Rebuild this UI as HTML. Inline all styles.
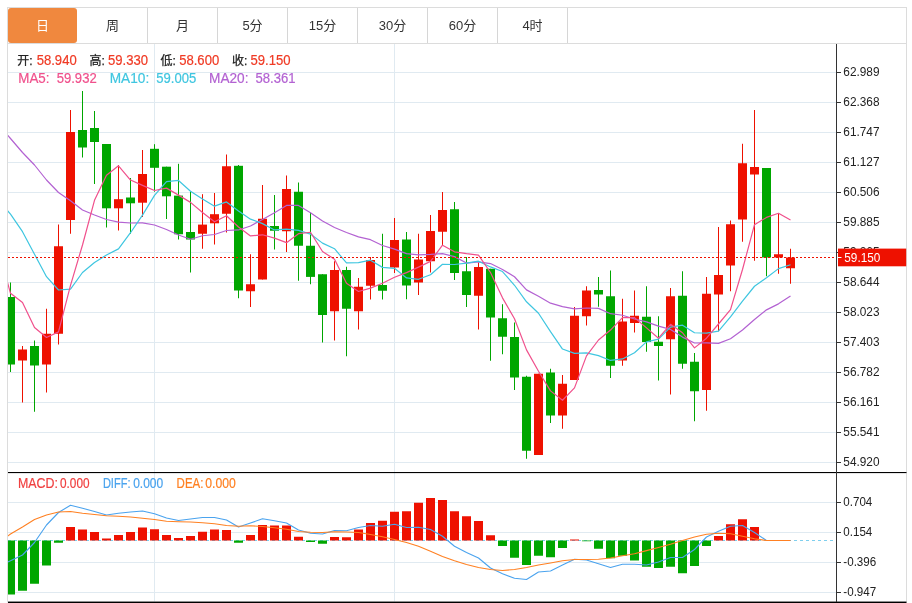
<!DOCTYPE html>
<html lang="zh"><head><meta charset="utf-8"><title>K线图</title>
<style>
html,body{margin:0;padding:0;background:#fff}
svg{display:block}
text{font-family:"Liberation Sans","Noto Sans CJK SC",sans-serif}
.ax{font-size:13px;fill:#222}
.tab{font-size:13px;fill:#333;text-anchor:middle}
.cj{font-size:12px;stroke-width:0.25px}
.hd{font-size:13.8px;stroke-width:0.2px}
</style></head><body>
<svg width="912" height="603" viewBox="0 0 912 603">
<defs><clipPath id="cp"><rect x="8" y="44" width="828.5" height="558"/></clipPath></defs>
<rect width="912" height="603" fill="#fff"/>

<rect x="7.5" y="7.5" width="899" height="594.5" fill="none" stroke="#dcdcdc" stroke-width="1"/>
<line x1="7.5" y1="43.5" x2="906.5" y2="43.5" stroke="#dcdcdc"/>
<line x1="147.5" y1="8" x2="147.5" y2="43" stroke="#d6d6d6"/>
<line x1="217.5" y1="8" x2="217.5" y2="43" stroke="#d6d6d6"/>
<line x1="287.5" y1="8" x2="287.5" y2="43" stroke="#d6d6d6"/>
<line x1="357.5" y1="8" x2="357.5" y2="43" stroke="#d6d6d6"/>
<line x1="427.5" y1="8" x2="427.5" y2="43" stroke="#d6d6d6"/>
<line x1="497.5" y1="8" x2="497.5" y2="43" stroke="#d6d6d6"/>
<line x1="567.5" y1="8" x2="567.5" y2="43" stroke="#d6d6d6"/>
<rect x="8" y="8" width="69" height="35" rx="3" fill="#f0883e"/>
<text class="tab" x="42.5" y="30.2" fill="#fff" style="fill:#fff">日</text>
<text class="tab" x="112.5" y="30.2">周</text>
<text class="tab" x="182.5" y="30.2">月</text>
<text class="tab" x="252.5" y="30.2">5分</text>
<text class="tab" x="322.5" y="30.2">15分</text>
<text class="tab" x="392.5" y="30.2">30分</text>
<text class="tab" x="462.5" y="30.2">60分</text>
<text class="tab" x="532.5" y="30.2">4时</text>
<line x1="8" y1="72.5" x2="836" y2="72.5" stroke="#e0eaf1"/>
<line x1="8" y1="102.5" x2="836" y2="102.5" stroke="#e0eaf1"/>
<line x1="8" y1="132.5" x2="836" y2="132.5" stroke="#e0eaf1"/>
<line x1="8" y1="162.5" x2="836" y2="162.5" stroke="#e0eaf1"/>
<line x1="8" y1="192.5" x2="836" y2="192.5" stroke="#e0eaf1"/>
<line x1="8" y1="222.5" x2="836" y2="222.5" stroke="#e0eaf1"/>
<line x1="8" y1="252.5" x2="836" y2="252.5" stroke="#e0eaf1"/>
<line x1="8" y1="282.5" x2="836" y2="282.5" stroke="#e0eaf1"/>
<line x1="8" y1="312.5" x2="836" y2="312.5" stroke="#e0eaf1"/>
<line x1="8" y1="342.5" x2="836" y2="342.5" stroke="#e0eaf1"/>
<line x1="8" y1="372.5" x2="836" y2="372.5" stroke="#e0eaf1"/>
<line x1="8" y1="402.5" x2="836" y2="402.5" stroke="#e0eaf1"/>
<line x1="8" y1="432.5" x2="836" y2="432.5" stroke="#e0eaf1"/>
<line x1="8" y1="462.5" x2="836" y2="462.5" stroke="#e0eaf1"/>
<line x1="8" y1="502.5" x2="836" y2="502.5" stroke="#e0eaf1"/>
<line x1="8" y1="532.5" x2="836" y2="532.5" stroke="#e0eaf1"/>
<line x1="8" y1="562.5" x2="836" y2="562.5" stroke="#e0eaf1"/>
<line x1="8" y1="592.5" x2="836" y2="592.5" stroke="#e0eaf1"/>
<line x1="154.5" y1="44" x2="154.5" y2="602" stroke="#e0eaf1"/>
<line x1="394.5" y1="44" x2="394.5" y2="602" stroke="#e0eaf1"/>
<line x1="8" y1="540.5" x2="836" y2="540.5" stroke="#7fcfee" stroke-dasharray="3,3"/>
<g clip-path="url(#cp)">
<line x1="10.5" y1="282.5" x2="10.5" y2="372" stroke="#00a600" stroke-width="1"/>
<rect x="6.0" y="297" width="9" height="67.5" fill="#00a600"/>
<line x1="22.5" y1="346" x2="22.5" y2="402.5" stroke="#ee1100" stroke-width="1"/>
<rect x="18.0" y="349.5" width="9" height="11.0" fill="#ee1100"/>
<line x1="34.5" y1="340.5" x2="34.5" y2="411.75" stroke="#00a600" stroke-width="1"/>
<rect x="30.0" y="346" width="9" height="19.5" fill="#00a600"/>
<line x1="46.5" y1="308.75" x2="46.5" y2="392.5" stroke="#ee1100" stroke-width="1"/>
<rect x="42.0" y="333.75" width="9" height="30.75" fill="#ee1100"/>
<line x1="58.5" y1="224.5" x2="58.5" y2="344.5" stroke="#ee1100" stroke-width="1"/>
<rect x="54.0" y="246.25" width="9" height="87.5" fill="#ee1100"/>
<line x1="70.5" y1="110" x2="70.5" y2="233.75" stroke="#ee1100" stroke-width="1"/>
<rect x="66.0" y="132" width="9" height="88" fill="#ee1100"/>
<line x1="82.5" y1="91" x2="82.5" y2="157.5" stroke="#00a600" stroke-width="1"/>
<rect x="78.0" y="130" width="9" height="17.5" fill="#00a600"/>
<line x1="94.5" y1="111" x2="94.5" y2="184" stroke="#00a600" stroke-width="1"/>
<rect x="90.0" y="128" width="9" height="14" fill="#00a600"/>
<line x1="106.5" y1="144" x2="106.5" y2="227.5" stroke="#00a600" stroke-width="1"/>
<rect x="102.0" y="144" width="9" height="64.3" fill="#00a600"/>
<line x1="118.5" y1="165" x2="118.5" y2="230.5" stroke="#ee1100" stroke-width="1"/>
<rect x="114.0" y="199.2" width="9" height="9.1" fill="#ee1100"/>
<line x1="130.5" y1="178" x2="130.5" y2="233.75" stroke="#00a600" stroke-width="1"/>
<rect x="126.0" y="197.5" width="9" height="5.8" fill="#00a600"/>
<line x1="142.5" y1="150" x2="142.5" y2="217" stroke="#ee1100" stroke-width="1"/>
<rect x="138.0" y="174" width="9" height="28.7" fill="#ee1100"/>
<line x1="154.5" y1="144.2" x2="154.5" y2="191.7" stroke="#00a600" stroke-width="1"/>
<rect x="150.0" y="148.8" width="9" height="19.0" fill="#00a600"/>
<line x1="166.5" y1="166.7" x2="166.5" y2="219" stroke="#00a600" stroke-width="1"/>
<rect x="162.0" y="166.7" width="9" height="29.6" fill="#00a600"/>
<line x1="178.5" y1="163.8" x2="178.5" y2="239.5" stroke="#00a600" stroke-width="1"/>
<rect x="174.0" y="195.6" width="9" height="38.65" fill="#00a600"/>
<line x1="190.5" y1="191.5" x2="190.5" y2="272.5" stroke="#00a600" stroke-width="1"/>
<rect x="186.0" y="232" width="9" height="7.5" fill="#00a600"/>
<line x1="202.5" y1="194.2" x2="202.5" y2="248.75" stroke="#ee1100" stroke-width="1"/>
<rect x="198.0" y="224.6" width="9" height="9.15" fill="#ee1100"/>
<line x1="214.5" y1="193" x2="214.5" y2="244.5" stroke="#ee1100" stroke-width="1"/>
<rect x="210.0" y="214.2" width="9" height="9.1" fill="#ee1100"/>
<line x1="226.5" y1="154.5" x2="226.5" y2="232.5" stroke="#ee1100" stroke-width="1"/>
<rect x="222.0" y="166.25" width="9" height="47.5" fill="#ee1100"/>
<line x1="238.5" y1="165" x2="238.5" y2="298.25" stroke="#00a600" stroke-width="1"/>
<rect x="234.0" y="165.8" width="9" height="124.7" fill="#00a600"/>
<line x1="250.5" y1="254.25" x2="250.5" y2="307" stroke="#ee1100" stroke-width="1"/>
<rect x="246.0" y="284.25" width="9" height="7.0" fill="#ee1100"/>
<line x1="262.5" y1="185" x2="262.5" y2="279.5" stroke="#ee1100" stroke-width="1"/>
<rect x="258.0" y="218.75" width="9" height="60.75" fill="#ee1100"/>
<line x1="274.5" y1="195" x2="274.5" y2="249.5" stroke="#00a600" stroke-width="1"/>
<rect x="270.0" y="226" width="9" height="4.75" fill="#00a600"/>
<line x1="286.5" y1="175.5" x2="286.5" y2="252" stroke="#ee1100" stroke-width="1"/>
<rect x="282.0" y="189" width="9" height="42.25" fill="#ee1100"/>
<line x1="298.5" y1="182.5" x2="298.5" y2="280.75" stroke="#00a600" stroke-width="1"/>
<rect x="294.0" y="191.75" width="9" height="54.0" fill="#00a600"/>
<line x1="310.5" y1="212.5" x2="310.5" y2="284.25" stroke="#00a600" stroke-width="1"/>
<rect x="306.0" y="245.75" width="9" height="31.15" fill="#00a600"/>
<line x1="322.5" y1="274.25" x2="322.5" y2="342.5" stroke="#00a600" stroke-width="1"/>
<rect x="318.0" y="274.25" width="9" height="40.75" fill="#00a600"/>
<line x1="334.5" y1="261.25" x2="334.5" y2="340.5" stroke="#ee1100" stroke-width="1"/>
<rect x="330.0" y="270" width="9" height="41.25" fill="#ee1100"/>
<line x1="346.5" y1="266.75" x2="346.5" y2="356.25" stroke="#00a600" stroke-width="1"/>
<rect x="342.0" y="270" width="9" height="38.75" fill="#00a600"/>
<line x1="358.5" y1="278" x2="358.5" y2="329.5" stroke="#ee1100" stroke-width="1"/>
<rect x="354.0" y="286.75" width="9" height="24.5" fill="#ee1100"/>
<line x1="370.5" y1="257" x2="370.5" y2="299.5" stroke="#ee1100" stroke-width="1"/>
<rect x="366.0" y="260" width="9" height="25.75" fill="#ee1100"/>
<line x1="382.5" y1="233.75" x2="382.5" y2="299.5" stroke="#00a600" stroke-width="1"/>
<rect x="378.0" y="285" width="9" height="5.75" fill="#00a600"/>
<line x1="394.5" y1="218" x2="394.5" y2="273" stroke="#ee1100" stroke-width="1"/>
<rect x="390.0" y="240" width="9" height="27.5" fill="#ee1100"/>
<line x1="406.5" y1="232" x2="406.5" y2="299.25" stroke="#00a600" stroke-width="1"/>
<rect x="402.0" y="239.5" width="9" height="46.0" fill="#00a600"/>
<line x1="418.5" y1="233.75" x2="418.5" y2="295" stroke="#ee1100" stroke-width="1"/>
<rect x="414.0" y="259.5" width="9" height="23.0" fill="#ee1100"/>
<line x1="430.5" y1="215" x2="430.5" y2="272.5" stroke="#ee1100" stroke-width="1"/>
<rect x="426.0" y="231" width="9" height="30.25" fill="#ee1100"/>
<line x1="442.5" y1="192" x2="442.5" y2="245" stroke="#ee1100" stroke-width="1"/>
<rect x="438.0" y="210" width="9" height="21.75" fill="#ee1100"/>
<line x1="454.5" y1="202" x2="454.5" y2="280" stroke="#00a600" stroke-width="1"/>
<rect x="450.0" y="209.25" width="9" height="63.75" fill="#00a600"/>
<line x1="466.5" y1="257" x2="466.5" y2="307" stroke="#00a600" stroke-width="1"/>
<rect x="462.0" y="271.25" width="9" height="23.75" fill="#00a600"/>
<line x1="478.5" y1="262.5" x2="478.5" y2="329.5" stroke="#ee1100" stroke-width="1"/>
<rect x="474.0" y="267" width="9" height="28.75" fill="#ee1100"/>
<line x1="490.5" y1="268.75" x2="490.5" y2="360.75" stroke="#00a600" stroke-width="1"/>
<rect x="486.0" y="268.75" width="9" height="48.75" fill="#00a600"/>
<line x1="502.5" y1="304.25" x2="502.5" y2="354.25" stroke="#00a600" stroke-width="1"/>
<rect x="498.0" y="318.25" width="9" height="18.5" fill="#00a600"/>
<line x1="514.5" y1="322.5" x2="514.5" y2="390" stroke="#00a600" stroke-width="1"/>
<rect x="510.0" y="337" width="9" height="40.5" fill="#00a600"/>
<line x1="526.5" y1="375.75" x2="526.5" y2="458.75" stroke="#00a600" stroke-width="1"/>
<rect x="522.0" y="376.75" width="9" height="74.0" fill="#00a600"/>
<line x1="538.5" y1="373.75" x2="538.5" y2="455" stroke="#ee1100" stroke-width="1"/>
<rect x="534.0" y="373.75" width="9" height="81.25" fill="#ee1100"/>
<line x1="550.5" y1="368.75" x2="550.5" y2="423" stroke="#00a600" stroke-width="1"/>
<rect x="546.0" y="372.5" width="9" height="43.0" fill="#00a600"/>
<line x1="562.5" y1="375" x2="562.5" y2="428.75" stroke="#ee1100" stroke-width="1"/>
<rect x="558.0" y="383.75" width="9" height="31.75" fill="#ee1100"/>
<line x1="574.5" y1="307" x2="574.5" y2="380" stroke="#ee1100" stroke-width="1"/>
<rect x="570.0" y="315.75" width="9" height="64.25" fill="#ee1100"/>
<line x1="586.5" y1="286.25" x2="586.5" y2="325.5" stroke="#ee1100" stroke-width="1"/>
<rect x="582.0" y="290.5" width="9" height="25.75" fill="#ee1100"/>
<line x1="598.5" y1="277" x2="598.5" y2="306.75" stroke="#00a600" stroke-width="1"/>
<rect x="594.0" y="290" width="9" height="4.5" fill="#00a600"/>
<line x1="610.5" y1="270.5" x2="610.5" y2="378" stroke="#00a600" stroke-width="1"/>
<rect x="606.0" y="296.25" width="9" height="69.5" fill="#00a600"/>
<line x1="622.5" y1="298.75" x2="622.5" y2="365.75" stroke="#ee1100" stroke-width="1"/>
<rect x="618.0" y="321.5" width="9" height="39.0" fill="#ee1100"/>
<line x1="634.5" y1="290.5" x2="634.5" y2="332.5" stroke="#ee1100" stroke-width="1"/>
<rect x="630.0" y="315.75" width="9" height="7.25" fill="#ee1100"/>
<line x1="646.5" y1="286.25" x2="646.5" y2="351.75" stroke="#00a600" stroke-width="1"/>
<rect x="642.0" y="316.75" width="9" height="25.25" fill="#00a600"/>
<line x1="658.5" y1="316.25" x2="658.5" y2="380.5" stroke="#00a600" stroke-width="1"/>
<rect x="654.0" y="341.75" width="9" height="4.25" fill="#00a600"/>
<line x1="670.5" y1="288" x2="670.5" y2="394.5" stroke="#ee1100" stroke-width="1"/>
<rect x="666.0" y="296.25" width="9" height="43.0" fill="#ee1100"/>
<line x1="682.5" y1="271.25" x2="682.5" y2="368.75" stroke="#00a600" stroke-width="1"/>
<rect x="678.0" y="295.75" width="9" height="68.0" fill="#00a600"/>
<line x1="694.5" y1="353" x2="694.5" y2="421.25" stroke="#00a600" stroke-width="1"/>
<rect x="690.0" y="361.75" width="9" height="29.5" fill="#00a600"/>
<line x1="706.5" y1="277" x2="706.5" y2="410.75" stroke="#ee1100" stroke-width="1"/>
<rect x="702.0" y="293.75" width="9" height="96.25" fill="#ee1100"/>
<line x1="718.5" y1="227" x2="718.5" y2="331.25" stroke="#ee1100" stroke-width="1"/>
<rect x="714.0" y="275" width="9" height="19.5" fill="#ee1100"/>
<line x1="730.5" y1="220.5" x2="730.5" y2="291.25" stroke="#ee1100" stroke-width="1"/>
<rect x="726.0" y="224.25" width="9" height="41.25" fill="#ee1100"/>
<line x1="742.5" y1="143.75" x2="742.5" y2="241.75" stroke="#ee1100" stroke-width="1"/>
<rect x="738.0" y="163.25" width="9" height="56.25" fill="#ee1100"/>
<line x1="754.5" y1="110" x2="754.5" y2="260.75" stroke="#ee1100" stroke-width="1"/>
<rect x="750.0" y="167" width="9" height="7.5" fill="#ee1100"/>
<line x1="766.5" y1="168" x2="766.5" y2="276.25" stroke="#00a600" stroke-width="1"/>
<rect x="762.0" y="168" width="9" height="89.5" fill="#00a600"/>
<line x1="778.5" y1="213.75" x2="778.5" y2="273.75" stroke="#ee1100" stroke-width="1"/>
<rect x="774.0" y="254.25" width="9" height="3.25" fill="#ee1100"/>
<line x1="790.5" y1="248.75" x2="790.5" y2="283.75" stroke="#ee1100" stroke-width="1"/>
<rect x="786.0" y="257.5" width="9" height="10.75" fill="#ee1100"/>
<polyline points="-1.5,124.5 10.5,138.5 22.5,152.5 34.5,165 46.5,180 58.5,192.5 70.5,200.8 82.5,210 94.5,215 106.5,219.5 118.5,222.2 130.5,223 142.5,222.8 154.5,225 166.5,229.5 178.5,235 190.5,239.25 202.5,235.75 214.5,234.5 226.5,230.5 238.5,229.96 250.5,225.95 262.5,219.41 274.5,212.67 286.5,205.44 298.5,205.41 310.5,212.66 322.5,221.03 334.5,227.43 346.5,232.45 358.5,236.83 370.5,239.67 382.5,245.5 394.5,249.11 406.5,253.57 418.5,254.83 430.5,254.41 442.5,253.68 454.5,256.62 466.5,263.06 478.5,261.88 490.5,263.54 502.5,269.44 514.5,276.78 526.5,289.87 538.5,296.27 550.5,303.2 562.5,306.64 574.5,308.93 586.5,308.01 598.5,308.4 610.5,313.69 622.5,315.23 634.5,319.01 646.5,321.84 658.5,326.16 670.5,329.43 682.5,337.11 694.5,343.02 706.5,342.96 718.5,343.36 730.5,338.7 742.5,330.02 754.5,319.5 766.5,309.84 778.5,303.86 790.5,295.96" fill="none" stroke="#b362d2" stroke-width="1.2" stroke-linejoin="round"/>
<polyline points="-1.5,200 10.5,214.2 22.5,231.7 34.5,254.2 46.5,276.7 58.5,290 70.5,289.2 82.5,272.5 94.5,262.5 106.5,255 118.5,248.85 130.5,232.73 142.5,215.18 154.5,195.41 166.5,181.67 178.5,180.47 190.5,191.22 202.5,198.93 214.5,206.14 226.5,201.94 238.5,211.07 250.5,219.17 262.5,223.64 274.5,229.94 286.5,229.21 298.5,230.36 310.5,234.09 322.5,243.13 334.5,248.72 346.5,262.97 358.5,262.59 370.5,260.17 382.5,267.37 394.5,268.29 406.5,277.94 418.5,279.31 430.5,274.73 442.5,264.23 454.5,264.52 466.5,263.15 478.5,261.18 490.5,266.93 502.5,271.52 514.5,285.27 526.5,301.8 538.5,313.23 550.5,331.68 562.5,349.05 574.5,353.32 586.5,352.88 598.5,355.62 610.5,360.45 622.5,358.93 634.5,352.75 646.5,341.88 658.5,339.1 670.5,327.18 682.5,325.18 694.5,332.73 706.5,333.05 718.5,331.1 730.5,316.95 742.5,301.12 754.5,286.25 766.5,277.8 778.5,268.62 790.5,264.75" fill="none" stroke="#3fc6e0" stroke-width="1.2" stroke-linejoin="round"/>
<polyline points="-1.5,250 10.5,293.3 22.5,302.5 34.5,327.5 46.5,337.5 58.5,331.9 70.5,285.4 82.5,245.0 94.5,200.3 106.5,175.21 118.5,165.8 130.5,180.06 142.5,185.36 154.5,190.52 166.5,188.12 178.5,195.13 190.5,202.37 202.5,212.49 214.5,221.77 226.5,215.76 238.5,227.01 250.5,235.96 262.5,234.79 274.5,238.1 286.5,242.65 298.5,233.7 310.5,232.23 322.5,251.48 334.5,259.33 346.5,283.28 358.5,291.48 370.5,288.1 382.5,283.25 394.5,277.25 406.5,272.6 418.5,267.15 430.5,261.35 442.5,245.2 454.5,251.8 466.5,253.7 478.5,255.2 490.5,272.5 502.5,297.85 514.5,318.75 526.5,349.9 538.5,371.25 550.5,390.85 562.5,400.25 574.5,387.9 586.5,355.85 598.5,340.0 610.5,330.05 622.5,317.6 634.5,317.6 646.5,327.9 658.5,338.2 670.5,324.3 682.5,332.75 694.5,347.85 706.5,338.2 718.5,324.0 730.5,309.6 742.5,269.5 754.5,224.65 766.5,217.4 778.5,213.25 790.5,219.9" fill="none" stroke="#f0508c" stroke-width="1.2" stroke-linejoin="round"/>
</g>
<line x1="8" y1="257.5" x2="836" y2="257.5" stroke="#ee1100" stroke-width="1" stroke-dasharray="2,2"/>
<g clip-path="url(#cp)">
<rect x="6.0" y="540.5" width="9" height="54.0" fill="#00a600"/>
<rect x="18.0" y="540.5" width="9" height="50.25" fill="#00a600"/>
<rect x="30.0" y="540.5" width="9" height="43.25" fill="#00a600"/>
<rect x="42.0" y="540.5" width="9" height="25.0" fill="#00a600"/>
<rect x="54.0" y="540.5" width="9" height="2.25" fill="#00a600"/>
<rect x="66.0" y="527" width="9" height="13.5" fill="#ee1100"/>
<rect x="78.0" y="529.5" width="9" height="11.0" fill="#ee1100"/>
<rect x="90.0" y="532" width="9" height="8.5" fill="#ee1100"/>
<rect x="102.0" y="538.5" width="9" height="2.0" fill="#ee1100"/>
<rect x="114.0" y="535" width="9" height="5.5" fill="#ee1100"/>
<rect x="126.0" y="532" width="9" height="8.5" fill="#ee1100"/>
<rect x="138.0" y="527.5" width="9" height="13.0" fill="#ee1100"/>
<rect x="150.0" y="529.25" width="9" height="11.25" fill="#ee1100"/>
<rect x="162.0" y="535" width="9" height="5.5" fill="#ee1100"/>
<rect x="174.0" y="538" width="9" height="2.5" fill="#ee1100"/>
<rect x="186.0" y="536" width="9" height="4.5" fill="#ee1100"/>
<rect x="198.0" y="531.75" width="9" height="8.75" fill="#ee1100"/>
<rect x="210.0" y="529.5" width="9" height="11.0" fill="#ee1100"/>
<rect x="222.0" y="530" width="9" height="10.5" fill="#ee1100"/>
<rect x="234.0" y="540.5" width="9" height="2.25" fill="#00a600"/>
<rect x="246.0" y="535" width="9" height="5.5" fill="#ee1100"/>
<rect x="258.0" y="525" width="9" height="15.5" fill="#ee1100"/>
<rect x="270.0" y="525.5" width="9" height="15.0" fill="#ee1100"/>
<rect x="282.0" y="525.5" width="9" height="15.0" fill="#ee1100"/>
<rect x="294.0" y="536.75" width="9" height="3.75" fill="#ee1100"/>
<rect x="306.0" y="540.5" width="9" height="1.5" fill="#00a600"/>
<rect x="318.0" y="540.5" width="9" height="3.25" fill="#00a600"/>
<rect x="330.0" y="537" width="9" height="3.5" fill="#ee1100"/>
<rect x="342.0" y="537.25" width="9" height="3.25" fill="#ee1100"/>
<rect x="354.0" y="529.5" width="9" height="11.0" fill="#ee1100"/>
<rect x="366.0" y="523" width="9" height="17.5" fill="#ee1100"/>
<rect x="378.0" y="520.75" width="9" height="19.75" fill="#ee1100"/>
<rect x="390.0" y="511.75" width="9" height="28.75" fill="#ee1100"/>
<rect x="402.0" y="511.25" width="9" height="29.25" fill="#ee1100"/>
<rect x="414.0" y="502.75" width="9" height="37.75" fill="#ee1100"/>
<rect x="426.0" y="498" width="9" height="42.5" fill="#ee1100"/>
<rect x="438.0" y="500" width="9" height="40.5" fill="#ee1100"/>
<rect x="450.0" y="511.25" width="9" height="29.25" fill="#ee1100"/>
<rect x="462.0" y="516.25" width="9" height="24.25" fill="#ee1100"/>
<rect x="474.0" y="521" width="9" height="19.5" fill="#ee1100"/>
<rect x="486.0" y="535.25" width="9" height="5.25" fill="#ee1100"/>
<rect x="498.0" y="540.5" width="9" height="5.5" fill="#00a600"/>
<rect x="510.0" y="540.5" width="9" height="17.25" fill="#00a600"/>
<rect x="522.0" y="540.5" width="9" height="24.5" fill="#00a600"/>
<rect x="534.0" y="540.5" width="9" height="15.25" fill="#00a600"/>
<rect x="546.0" y="540.5" width="9" height="16.75" fill="#00a600"/>
<rect x="558.0" y="540.5" width="9" height="7.5" fill="#00a600"/>
<rect x="570.0" y="539.5" width="9" height="1.0" fill="#ee1100"/>
<rect x="582.0" y="540.5" width="9" height="0.75" fill="#00a600"/>
<rect x="594.0" y="540.5" width="9" height="8.25" fill="#00a600"/>
<rect x="606.0" y="540.5" width="9" height="17.75" fill="#00a600"/>
<rect x="618.0" y="540.5" width="9" height="15.25" fill="#00a600"/>
<rect x="630.0" y="540.5" width="9" height="20.0" fill="#00a600"/>
<rect x="642.0" y="540.5" width="9" height="26.25" fill="#00a600"/>
<rect x="654.0" y="540.5" width="9" height="27.5" fill="#00a600"/>
<rect x="666.0" y="540.5" width="9" height="26.25" fill="#00a600"/>
<rect x="678.0" y="540.5" width="9" height="32.75" fill="#00a600"/>
<rect x="690.0" y="540.5" width="9" height="25.5" fill="#00a600"/>
<rect x="702.0" y="540.5" width="9" height="5.5" fill="#00a600"/>
<rect x="714.0" y="536" width="9" height="4.5" fill="#ee1100"/>
<rect x="726.0" y="524.25" width="9" height="16.25" fill="#ee1100"/>
<rect x="738.0" y="519.25" width="9" height="21.25" fill="#ee1100"/>
<rect x="750.0" y="527" width="9" height="13.5" fill="#ee1100"/>
<polyline points="-1.5,566 10.5,560.8 22.5,555 34.5,542.5 46.5,525 58.5,512.5 70.5,505.25 82.5,508.25 94.5,511.5 106.5,515 118.5,513.25 130.5,512 142.5,511 154.5,513.75 166.5,518 178.5,520.5 190.5,519 202.5,517.5 214.5,517.5 226.5,520 238.5,527 250.5,523 262.5,518.75 274.5,520.75 286.5,523 298.5,530 310.5,533.25 322.5,534 334.5,530.5 346.5,530.75 358.5,527.5 370.5,525.5 382.5,526.25 394.5,524.25 406.5,527.5 418.5,527.25 430.5,529.5 442.5,536.25 454.5,546.25 466.5,552.5 478.5,558 490.5,568 502.5,573.75 514.5,578.25 526.5,579.5 538.5,572 550.5,571 562.5,565 574.5,559.25 586.5,560 598.5,563.75 610.5,567.5 622.5,564.25 634.5,564.25 646.5,565 658.5,562 670.5,557.5 682.5,557.5 694.5,549.5 706.5,537 718.5,531.25 730.5,526.25 742.5,525.5 754.5,532.5 766.5,540.5 778.5,540.5 790.5,540.5" fill="none" stroke="#4aa3ee" stroke-width="1.1" stroke-linejoin="round"/>
<polyline points="-1.5,543 10.5,534 22.5,527 34.5,519.5 46.5,515 58.5,512 70.5,511.5 82.5,513.25 94.5,514.5 106.5,515.75 118.5,516.25 130.5,517 142.5,518.25 154.5,519.5 166.5,521.25 178.5,521.75 190.5,522 202.5,522.75 214.5,523.75 226.5,525.5 238.5,526.25 250.5,525.75 262.5,526.5 274.5,527.75 286.5,529.25 298.5,531.5 310.5,532.25 322.5,532.5 334.5,531.75 346.5,532 358.5,532.5 370.5,534.5 382.5,536.75 394.5,539.5 406.5,542.5 418.5,546.25 430.5,551.25 442.5,556.5 454.5,560.75 466.5,564.5 478.5,567.5 490.5,569.5 502.5,570.5 514.5,569.5 526.5,567.5 538.5,565 550.5,563 562.5,560.75 574.5,559.5 586.5,559.5 598.5,559.25 610.5,558 622.5,555.75 634.5,553.75 646.5,550.6 658.5,547.5 670.5,544.25 682.5,540.5 694.5,537 706.5,534.25 718.5,533.25 730.5,533.75 742.5,536.25 754.5,538.75 766.5,540.5 778.5,540.5 790.5,540.5" fill="none" stroke="#ff8022" stroke-width="1.1" stroke-linejoin="round"/>
</g>
<rect x="8" y="472" width="898.5" height="1.1" fill="#000"/>
<rect x="8" y="601.6" width="898.5" height="1.4" fill="#000"/>
<line x1="836.5" y1="44" x2="836.5" y2="602" stroke="#333" stroke-width="1"/>
<line x1="836" y1="72.5" x2="841" y2="72.5" stroke="#333"/>
<text class="ax" x="843.3" y="76.4" textLength="36.2" lengthAdjust="spacingAndGlyphs">62.989</text>
<line x1="836" y1="102.5" x2="841" y2="102.5" stroke="#333"/>
<text class="ax" x="843.3" y="106.4" textLength="36.2" lengthAdjust="spacingAndGlyphs">62.368</text>
<line x1="836" y1="132.5" x2="841" y2="132.5" stroke="#333"/>
<text class="ax" x="843.3" y="136.4" textLength="36.2" lengthAdjust="spacingAndGlyphs">61.747</text>
<line x1="836" y1="162.5" x2="841" y2="162.5" stroke="#333"/>
<text class="ax" x="843.3" y="166.4" textLength="36.2" lengthAdjust="spacingAndGlyphs">61.127</text>
<line x1="836" y1="192.5" x2="841" y2="192.5" stroke="#333"/>
<text class="ax" x="843.3" y="196.4" textLength="36.2" lengthAdjust="spacingAndGlyphs">60.506</text>
<line x1="836" y1="222.5" x2="841" y2="222.5" stroke="#333"/>
<text class="ax" x="843.3" y="226.4" textLength="36.2" lengthAdjust="spacingAndGlyphs">59.885</text>
<line x1="836" y1="252.5" x2="841" y2="252.5" stroke="#333"/>
<text class="ax" x="843.3" y="256.4" textLength="36.2" lengthAdjust="spacingAndGlyphs">59.265</text>
<line x1="836" y1="282.5" x2="841" y2="282.5" stroke="#333"/>
<text class="ax" x="843.3" y="286.4" textLength="36.2" lengthAdjust="spacingAndGlyphs">58.644</text>
<line x1="836" y1="312.5" x2="841" y2="312.5" stroke="#333"/>
<text class="ax" x="843.3" y="316.4" textLength="36.2" lengthAdjust="spacingAndGlyphs">58.023</text>
<line x1="836" y1="342.5" x2="841" y2="342.5" stroke="#333"/>
<text class="ax" x="843.3" y="346.4" textLength="36.2" lengthAdjust="spacingAndGlyphs">57.403</text>
<line x1="836" y1="372.5" x2="841" y2="372.5" stroke="#333"/>
<text class="ax" x="843.3" y="376.4" textLength="36.2" lengthAdjust="spacingAndGlyphs">56.782</text>
<line x1="836" y1="402.5" x2="841" y2="402.5" stroke="#333"/>
<text class="ax" x="843.3" y="406.4" textLength="36.2" lengthAdjust="spacingAndGlyphs">56.161</text>
<line x1="836" y1="432.5" x2="841" y2="432.5" stroke="#333"/>
<text class="ax" x="843.3" y="436.4" textLength="36.2" lengthAdjust="spacingAndGlyphs">55.541</text>
<line x1="836" y1="462.5" x2="841" y2="462.5" stroke="#333"/>
<text class="ax" x="843.3" y="466.4" textLength="36.2" lengthAdjust="spacingAndGlyphs">54.920</text>
<line x1="836" y1="502.5" x2="841" y2="502.5" stroke="#333"/>
<text class="ax" x="843.3" y="506.4" textLength="29" lengthAdjust="spacingAndGlyphs">0.704</text>
<line x1="836" y1="532.5" x2="841" y2="532.5" stroke="#333"/>
<text class="ax" x="843.3" y="536.4" textLength="29" lengthAdjust="spacingAndGlyphs">0.154</text>
<line x1="836" y1="562.5" x2="841" y2="562.5" stroke="#333"/>
<text class="ax" x="843.3" y="566.4" textLength="33" lengthAdjust="spacingAndGlyphs">-0.396</text>
<line x1="836" y1="592.5" x2="841" y2="592.5" stroke="#333"/>
<text class="ax" x="843.3" y="596.4" textLength="33" lengthAdjust="spacingAndGlyphs">-0.947</text>
<rect x="838" y="248.6" width="68.2" height="17.7" fill="#ee1100"/>
<line x1="838" y1="257.5" x2="841.5" y2="257.5" stroke="#fff"/>
<text class="ax" x="844.3" y="262" fill="#fff" style="fill:#fff" textLength="36" lengthAdjust="spacingAndGlyphs">59.150</text>
<text class="cj" x="17.2" y="64.6" style="fill:#222;stroke:#222">开:</text>
<text class="hd" x="36.7" y="64.7" style="fill:#f03a24;stroke:#f03a24" textLength="40" lengthAdjust="spacingAndGlyphs">58.940</text>
<text class="cj" x="89.4" y="64.6" style="fill:#222;stroke:#222">高:</text>
<text class="hd" x="108" y="64.7" style="fill:#f03a24;stroke:#f03a24" textLength="40" lengthAdjust="spacingAndGlyphs">59.330</text>
<text class="cj" x="160.6" y="64.6" style="fill:#222;stroke:#222">低:</text>
<text class="hd" x="179.2" y="64.7" style="fill:#f03a24;stroke:#f03a24" textLength="40" lengthAdjust="spacingAndGlyphs">58.600</text>
<text class="cj" x="232" y="64.6" style="fill:#222;stroke:#222">收:</text>
<text class="hd" x="250.5" y="64.7" style="fill:#f03a24;stroke:#f03a24" textLength="40" lengthAdjust="spacingAndGlyphs">59.150</text>
<text class="hd" x="18.3" y="82.8" style="fill:#f0508c;stroke:#f0508c" textLength="31.2" lengthAdjust="spacingAndGlyphs">MA5:</text>
<text class="hd" x="56.7" y="82.8" style="fill:#f0508c;stroke:#f0508c" textLength="40" lengthAdjust="spacingAndGlyphs">59.932</text>
<text class="hd" x="109.7" y="82.8" style="fill:#3fc6e0;stroke:#3fc6e0" textLength="39.5" lengthAdjust="spacingAndGlyphs">MA10:</text>
<text class="hd" x="156.3" y="82.8" style="fill:#3fc6e0;stroke:#3fc6e0" textLength="40" lengthAdjust="spacingAndGlyphs">59.005</text>
<text class="hd" x="209" y="82.8" style="fill:#b362d2;stroke:#b362d2" textLength="39.5" lengthAdjust="spacingAndGlyphs">MA20:</text>
<text class="hd" x="255.5" y="82.8" style="fill:#b362d2;stroke:#b362d2" textLength="40" lengthAdjust="spacingAndGlyphs">58.361</text>
<text class="hd" x="17.9" y="487.8" style="fill:#f04040;stroke:#f04040" textLength="40" lengthAdjust="spacingAndGlyphs">MACD:</text>
<text class="hd" x="60" y="487.8" style="fill:#f04040;stroke:#f04040" textLength="29.5" lengthAdjust="spacingAndGlyphs">0.000</text>
<text class="hd" x="102.9" y="487.8" style="fill:#4aa3ee;stroke:#4aa3ee" textLength="27.6" lengthAdjust="spacingAndGlyphs">DIFF:</text>
<text class="hd" x="133.2" y="487.8" style="fill:#4aa3ee;stroke:#4aa3ee" textLength="30" lengthAdjust="spacingAndGlyphs">0.000</text>
<text class="hd" x="176.6" y="487.8" style="fill:#ff8022;stroke:#ff8022" textLength="26.8" lengthAdjust="spacingAndGlyphs">DEA:</text>
<text class="hd" x="205.3" y="487.8" style="fill:#ff8022;stroke:#ff8022" textLength="30.5" lengthAdjust="spacingAndGlyphs">0.000</text>
</svg></body></html>
